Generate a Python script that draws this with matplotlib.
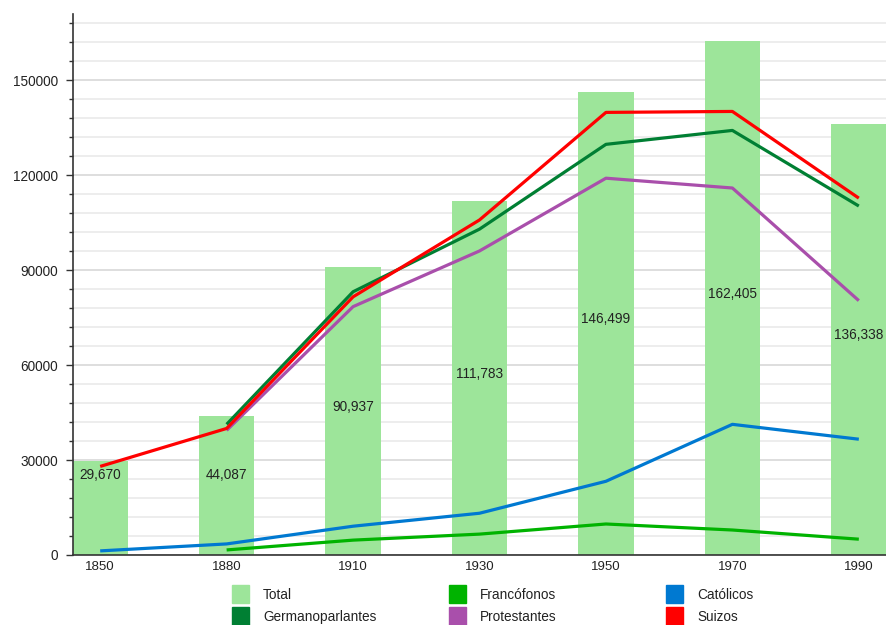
import numpy as np
import matplotlib
matplotlib.use("Agg")
import matplotlib.pyplot as plt
from matplotlib.patches import Rectangle
from matplotlib.ticker import MultipleLocator

plt.rcParams['font.family'] = ['Liberation Sans', 'DejaVu Sans']

# data
years = ["1850", "1880", "1910", "1930", "1950", "1970", "1990"]
total = [29670, 44087, 90937, 111783, 146499, 162405, 136338]
germanoparlantes = [None, 41300, 83200, 103000, 129800, 134200, 110300]
francofonos = [None, 1600, 4700, 6600, 9800, 7900, 5000]
catolicos = [1300, 3500, 9100, 13200, 23300, 41300, 36600]
protestantes = [None, 39400, 78500, 96100, 119100, 116000, 80400]
suizos = [28000, 40000, 81600, 105900, 139900, 140200, 112800]

colors = {
    "Total": "#9de59a",
    "Germanoparlantes": "#007f33",
    "Francófonos": "#00b300",
    "Protestantes": "#a94fab",
    "Católicos": "#0079d1",
    "Suizos": "#ff0000",
}

def clean(vals):
    return np.array([np.nan if v is None else v for v in vals], dtype=float)

fig = plt.figure(figsize=(8.86, 6.25), dpi=100)
ax = fig.add_axes([73 / 886, 1 - 555 / 625, 813 / 886, 541 / 625])

x = np.arange(len(years))
ax.bar(x, total, width=0.436, color=colors["Total"], zorder=2)

# labels inside bars
for xi, v in zip(x, total):
    ypos = max(v / 2, 24000)
    ax.annotate(f"{v:,}", (xi, ypos), xytext=(0, 3), textcoords="offset points",
                ha="center", va="center", fontsize=9.8, color="#222222", zorder=5)

lw = 2.3
series = [("Católicos", catolicos), ("Francófonos", francofonos),
          ("Protestantes", protestantes), ("Germanoparlantes", germanoparlantes),
          ("Suizos", suizos)]
for name, vals in series:
    ax.plot(x, clean(vals), color=colors[name], lw=lw, zorder=4,
            solid_capstyle="butt", solid_joinstyle="round")

ax.set_xlim(-0.215, 6.215)
ax.set_ylim(0, 171000)
ax.set_xticks(x)
ax.set_xticklabels(years)
ax.yaxis.set_major_locator(MultipleLocator(30000))
ax.yaxis.set_minor_locator(MultipleLocator(6000))
ax.grid(axis="y", which="major", color="#d4d4d4", lw=1.1, zorder=0)
ax.grid(axis="y", which="minor", color="#e8e8e8", lw=1.1, zorder=0)
ax.set_axisbelow(True)

for s in ["top", "right"]:
    ax.spines[s].set_visible(False)
ax.spines["left"].set_color("#333333")
ax.spines["bottom"].set_color("#333333")
ax.spines["left"].set_linewidth(1.2)
ax.spines["bottom"].set_linewidth(1.2)
ax.tick_params(axis="x", length=0, pad=4, labelsize=9.5, labelcolor="#222222")
ax.tick_params(axis="y", which="major", length=5, width=1, color="#333333",
               labelsize=9.8, labelcolor="#222222", pad=6)
ax.tick_params(axis="y", which="minor", length=3, width=1, color="#333333")

# legend on a fixed grid
legend_order = ["Total", "Francófonos", "Católicos",
                "Germanoparlantes", "Protestantes", "Suizos"]
W, H = 886, 625
for i, name in enumerate(legend_order):
    col, row = i % 3, i // 3
    px = 232 + 217 * col
    py = 585 + 22 * row
    fig.patches.append(Rectangle((px / W, 1 - (py + 18) / H), 17 / W, 18 / H,
                                 transform=fig.transFigure, color=colors[name]))
    fig.text((px + 31) / W, 1 - (py + 10) / H, name, fontsize=9.8,
             color="#222222", va="center", ha="left")

fig.savefig("out.png", dpi=100)
